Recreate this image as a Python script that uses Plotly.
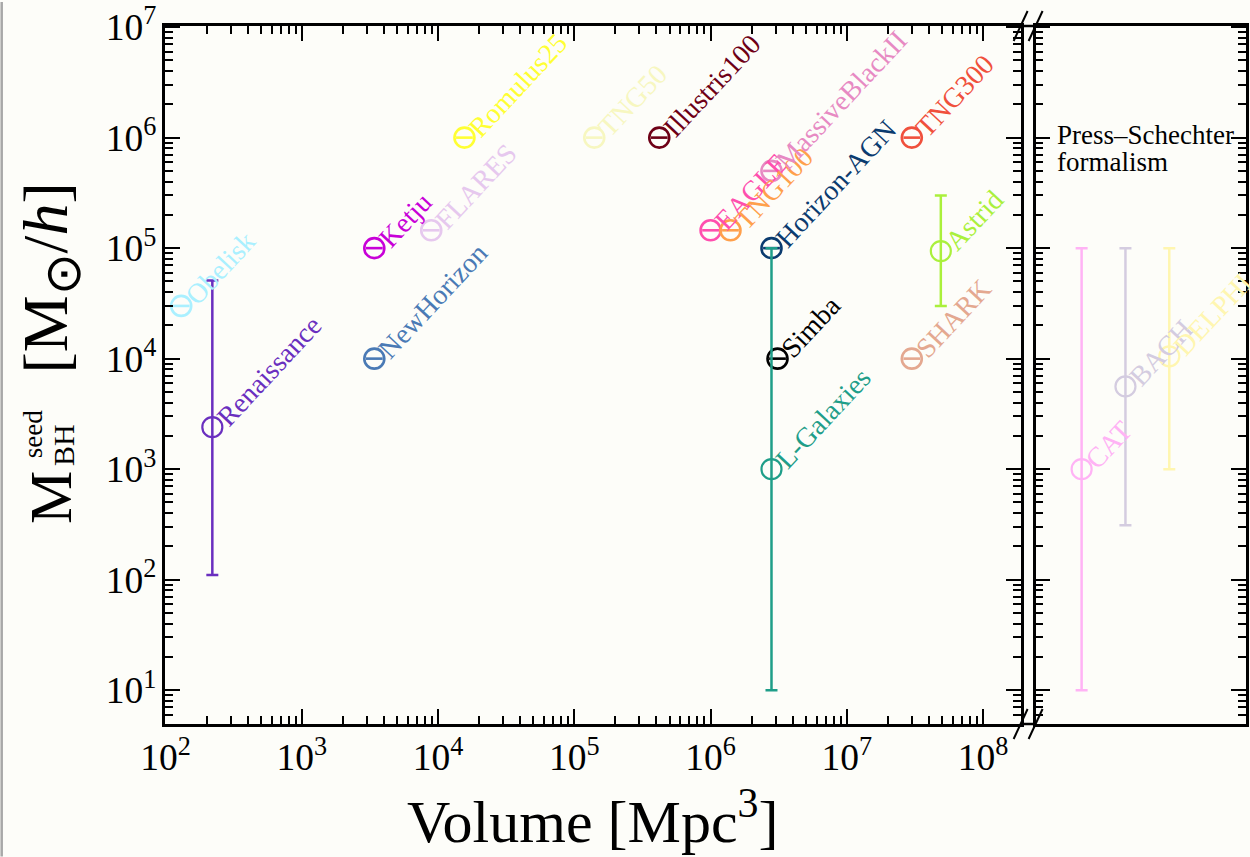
import numpy as np
import plotly.graph_objects as go

# --- simulations: box volume [Mpc^3] vs. black-hole seed mass [Msun/h] ---
sim_names = ["Renaissance", "Obelisk", "NewHorizon", "Ketju", "FLARES", "Romulus25",
             "TNG50", "Illustris100", "EAGLE", "TNG100", "MassiveBlackII",
             "Horizon-AGN", "Simba", "L-Galaxies", "TNG300", "Astrid", "SHARK"]
sim_volume = [2.2e2, 1.3e2, 3.4e3, 3.4e3, 8.9e3, 1.56e4,
              1.4e5, 4.2e5, 1.0e6, 1.4e6, 2.8e6,
              2.8e6, 3.1e6, 2.8e6, 3.0e7, 4.9e7, 3.0e7]
sim_mseed = [2.4e3, 3.0e4, 1.0e4, 1.0e5, 1.45e5, 1.0e6,
             1.0e6, 1.0e6, 1.45e5, 1.45e5, 5.0e5,
             1.0e5, 1.0e4, 1.0e3, 1.0e6, 9.4e4, 1.0e4]
sim_mseed_lo = [1.1e2, None, None, None, None, None,
                None, None, None, None, None,
                None, None, 1.0e1, None, 3.0e4, None]
sim_mseed_hi = [5.1e4, None, None, None, None, None,
                None, None, None, None, None,
                None, None, 1.0e5, None, 3.0e5, None]
sim_colors = ["#6a2fbf", "#aaf0ff", "#4a7ab5", "#c800d8", "#e6c8ee", "#ffff33",
              "#f7f7c0", "#6e0016", "#ff4fae", "#ffa04c", "#e78ac3",
              "#0b3b6f", "#000000", "#1f9e89", "#f0503c", "#aaf03c", "#e4a890"]

# --- semi-analytic models built on the Press-Schechter formalism ---
ps_names = ["CAT", "BACH", "DELPHI"]
ps_mseed = [1.0e3, 5.6e3, 1.05e4]
ps_mseed_lo = [1.0e1, 3.1e2, 1.0e3]
ps_mseed_hi = [1.0e5, 1.0e5, 1.0e5]
ps_colors = ["#ffb3f5", "#d4cce0", "#fff6b0"]

W, H = 1250, 857
ML, MR, MT, MB = 165, 1, 24, 133
PW, PH = W - ML - MR, H - MT - MB

X_RANGE = [1.995, 8.276]
Y_RANGE = [0.694, 7.01]


def px_x(px):
    return (px - ML) / PW


def px_y(py):
    return (H - MB - py) / PH


SERIF = "Liberation Serif"
LABEL_SIZE = 28
ANGLE = -47

fig = go.Figure()
annotations = []


def add_point(x, y, lo, hi, color, name, xa, ya):
    trace_kw = dict(x=[x], y=[y], mode="markers", xaxis=xa, yaxis=ya,
                    showlegend=False, hoverinfo="skip", cliponaxis=False)
    if lo is not None:
        fig.add_trace(go.Scatter(
            **trace_kw,
            marker=dict(symbol="circle-open", size=20, color=color,
                        line=dict(width=2.2, color=color)),
            error_y=dict(type="data", symmetric=False, array=[hi - y],
                         arrayminus=[y - lo], color=color, thickness=2.5, width=6),
        ))
    else:
        fig.add_trace(go.Scatter(
            **trace_kw,
            marker=dict(symbol="circle-open", size=20, color=color,
                        line=dict(width=2.6, color=color)),
        ))
        fig.add_trace(go.Scatter(
            **trace_kw,
            marker=dict(symbol="line-ew-open", size=12, color=color,
                        line=dict(width=2.6, color=color)),
        ))
    xv = np.log10(x) if xa == "x" else x
    annotations.append(dict(
        x=xv, y=np.log10(y), xref=xa, yref=ya, text=name, showarrow=False,
        textangle=ANGLE, xanchor="left", yanchor="bottom", xshift=-5, yshift=-8,
        font=dict(family=SERIF, size=LABEL_SIZE, color=color),
    ))


for n, v, m, lo, hi, c in zip(sim_names, sim_volume, sim_mseed,
                              sim_mseed_lo, sim_mseed_hi, sim_colors):
    add_point(v, m, lo, hi, c, n, "x", "y")

for i, (n, m, lo, hi, c) in enumerate(zip(ps_names, ps_mseed, ps_mseed_lo,
                                          ps_mseed_hi, ps_colors)):
    add_point(i + 1, m, lo, hi, c, n, "x2", "y2")

tick_font = dict(family=SERIF, size=30, color="black")
# major ticks every decade, minor ticks at 2..9 within each decade
minor = dict(dtick="D1", ticks="inside", ticklen=8, tickwidth=1.8,
             tickcolor="black", showgrid=False)
common = dict(showline=True, linewidth=2.5, linecolor="black", showgrid=False,
              zeroline=False, ticks="inside", tickwidth=2, ticklen=15,
              tickcolor="black", mirror="ticks", dtick=1, tick0=0,
              exponentformat="power", minor=minor, ticklabeloverflow="allow",
              labelalias={"10": "10<sup>1</sup>"})

fig.update_layout(
    width=W, height=H,
    margin=dict(l=ML, r=MR, t=MT, b=MB, pad=0),
    paper_bgcolor="#fdfdf9", plot_bgcolor="#fdfdf9",
    font=dict(family=SERIF, color="black"),
    xaxis=dict(type="log", range=X_RANGE, domain=[0, px_x(1023)],
               tickfont=tick_font, **common),
    yaxis=dict(type="log", range=Y_RANGE, tickfont=tick_font, **common),
    xaxis2=dict(range=[-0.05, 4.75], domain=[px_x(1038), 1], anchor="y2",
                showline=True, linewidth=2.5, linecolor="black", mirror=True,
                ticks="", showticklabels=False, showgrid=False, zeroline=False),
    yaxis2=dict(type="log", range=Y_RANGE, anchor="x2",
                showticklabels=False, **common),
)

# axis titles
annotations.append(dict(
    x=px_x(594), y=px_y(818), xref="paper", yref="paper", showarrow=False,
    text="Volume [Mpc<sup>3</sup>]", xanchor="center", yanchor="middle",
    font=dict(family=SERIF, size=60, color="black"),
))
ytitle_parts = [
    ("M", 60, 50, 497),
    ("seed", 27, 32, 433),
    ("BH", 30, 64, 444),
    ("[M<sub><span style='font-size:50px'>⊙</span></sub>/<i>h</i>]", 64, 50, 277),
]
for txt, size, cx, cy in ytitle_parts:
    annotations.append(dict(
        x=px_x(cx), y=px_y(cy), xref="paper", yref="paper", showarrow=False,
        text=txt, textangle=-90, xanchor="center", yanchor="middle",
        font=dict(family=SERIF, size=size, color="black"),
    ))

# panel caption
for txt, cy in [("Press–Schechter", 133), ("formalism", 160)]:
    annotations.append(dict(
        x=px_x(1057), y=px_y(cy), xref="paper", yref="paper", showarrow=False,
        text=txt, xanchor="left", yanchor="middle",
        font=dict(family=SERIF, size=27, color="black"),
    ))

fig.update_layout(annotations=annotations)

# broken-axis marks and frame between the two panels
shapes = []
for yc in (24, 724):
    shapes.append(dict(type="line", xref="paper", yref="paper",
                       x0=px_x(1023), x1=px_x(1038), y0=px_y(yc), y1=px_y(yc),
                       line=dict(color="black", width=2.5)))
    for xc in (1023, 1038):
        shapes.append(dict(type="line", xref="paper", yref="paper",
                           x0=px_x(xc - 7), x1=px_x(xc + 7),
                           y0=px_y(yc + 15), y1=px_y(yc - 15),
                           line=dict(color="black", width=2)))
shapes.append(dict(type="rect", xref="paper", yref="paper",
                   x0=px_x(0), x1=px_x(2.5), y0=px_y(H), y1=px_y(0),
                   fillcolor="#a8a8a8", line=dict(width=0), layer="above"))
fig.update_layout(shapes=shapes)

fig.write_html("out.html")
